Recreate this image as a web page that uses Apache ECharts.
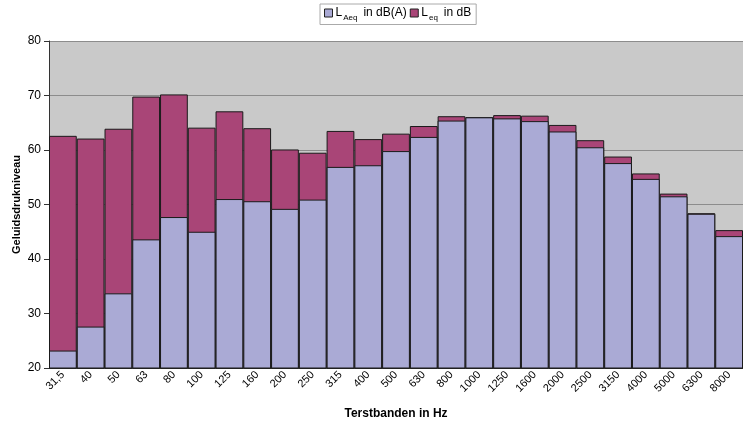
<!DOCTYPE html>
<html>
<head>
<meta charset="utf-8">
<script src="https://cdn.jsdelivr.net/npm/echarts@6/dist/echarts.min.js"></script>
<style>
  html, body { margin: 0; padding: 0; background: #fff; }
  #chart { width: 743px; height: 421px; }
</style>
</head>
<body>
<div id="chart"></div>
<script>
// terts bands
const bands = ['31,5', '40', '50', '63', '80', '100', '125', '160', '200', '250', '315', '400', '500',
  '630', '800', '1000', '1250', '1600', '2000', '2500', '3150', '4000', '5000', '6300', '8000']
const laeq = [23.2, 27.6, 33.7, 43.6, 47.7, 45.0, 51.0, 50.6, 49.2, 50.9, 56.9, 57.2, 59.8,
  62.4, 65.4, 66.0, 65.8, 65.3, 63.4, 60.5, 57.6, 54.7, 51.5, 48.3, 44.2]
const leq = [62.6, 62.1, 63.9, 69.8, 70.2, 64.1, 67.1, 64.0, 60.1, 59.5, 63.5, 62.0, 63.0,
  64.4, 66.2, 66.05, 66.4, 66.3, 64.6, 61.8, 58.8, 55.7, 52.0, 48.4, 45.3]
const yTicks = { min: 20, max: 80, interval: 10 }

const font = '"Liberation Sans", Arial, sans-serif'
const chart = echarts.init(document.getElementById('chart'))

chart.setOption({
  animation: false,
  textStyle: { fontFamily: font },
  legend: {
    data: ['LAeq', 'Leq'],
    top: 4,
    left: 320,
    icon: 'rect',
    itemWidth: 8,
    itemHeight: 8,
    itemGap: 3,
    padding: [3, 5, 3, 4],
    borderColor: '#aaa',
    borderWidth: 1,
    itemStyle: { borderColor: '#222', borderWidth: 1 },
    formatter: function (name) {
      return name === 'LAeq'
        ? '{m|L}{s|Aeq}{m|in dB(A)}'
        : '{m|L}{s|eq}{m|in dB}'
    },
    textStyle: {
      padding: [0, 0, 0, -2],
      rich: {
        m: { fontSize: 12, color: '#000', fontFamily: font },
        s: { fontSize: 8, color: '#000', fontFamily: font, padding: [9, 6, 0, 1] }
      }
    }
  },
  grid: {
    left: 49,
    right: 0,
    top: 41,
    bottom: 53,
    containLabel: false,
    outerBoundsMode: 'none',
    show: true,
    backgroundColor: '#c9c9c9',
    borderWidth: 0
  },
  xAxis: {
    type: 'category',
    data: bands,
    name: 'Terstbanden in Hz',
    nameLocation: 'middle',
    nameGap: 40,
    nameMoveOverlap: false,
    nameTextStyle: { fontSize: 12, fontWeight: 'bold', color: '#000' },
    axisLine: { lineStyle: { color: '#333' } },
    axisTick: { length: 4, lineStyle: { color: '#333' } },
    axisLabel: { rotate: 45, fontSize: 11, color: '#000', margin: 5 }
  },
  yAxis: {
    type: 'value',
    min: yTicks.min,
    max: yTicks.max,
    interval: yTicks.interval,
    name: 'Geluidsdrukniveau',
    nameLocation: 'middle',
    nameRotate: 90,
    nameGap: 27,
    nameMoveOverlap: false,
    nameTextStyle: { fontSize: 11, fontWeight: 'bold', color: '#000' },
    axisLine: { show: true, lineStyle: { color: '#333' } },
    axisTick: { show: true, length: 5, lineStyle: { color: '#333' } },
    axisLabel: { fontSize: 12, color: '#000', margin: 8 },
    splitLine: { lineStyle: { color: '#8c8c8c', width: 1 } }
  },
  series: [
    {
      name: 'Leq',
      type: 'bar',
      data: leq,
      barCategoryGap: 0,
      barGap: '-100%',
      itemStyle: { color: '#a94577', borderColor: '#1a1a1a', borderWidth: 1 }
    },
    {
      name: 'LAeq',
      type: 'bar',
      data: laeq,
      barCategoryGap: 0,
      barGap: '-100%',
      itemStyle: { color: '#aaaad5', borderColor: '#1a1a1a', borderWidth: 1 }
    }
  ]
})
</script>
</body>
</html>
